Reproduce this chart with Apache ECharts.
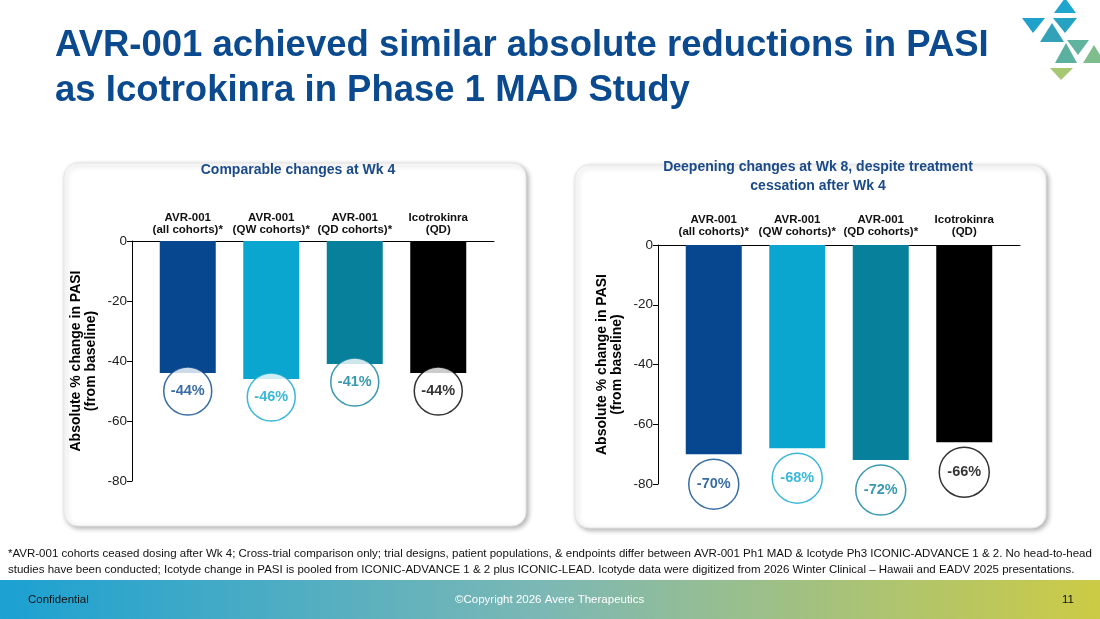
<!DOCTYPE html>
<html>
<head>
<meta charset="utf-8">
<script src="https://cdn.jsdelivr.net/npm/echarts@6/dist/echarts.min.js"></script>
<style>
  html, body { margin: 0; padding: 0; background: #fff; }
  #main { width: 1100px; height: 619px; }
</style>
</head>
<body>
<div id="main"></div>
<script>
// 类别
var categories = ['AVR-001\n(all cohorts)*', 'AVR-001\n(QW cohorts)*', 'AVR-001\n(QD cohorts)*', 'Icotrokinra\n(QD)'];
// Wk 4 变化
var wk4Values = [-44, -46, -41, -44];
// Wk 8 变化
var wk8Values = [-70, -68, -72, -66];
var barColors = ['#06478f', '#0aa6cf', '#07809c', '#000000'];
var yMin = -80, yMax = 0, yStep = 20;

var blue = '#0b4a8e';
var font = 'Liberation Sans, Arial, sans-serif';

function barData(vals) {
    return vals.map(function (v, i) {
        return { value: v, itemStyle: { color: barColors[i] } };
    });
}
function bubbleData(vals) {
    return vals.map(function (v, i) {
        return {
            value: v,
            itemStyle: { color: '#fff', borderColor: barColors[i], borderWidth: 1.5 },
            label: { color: barColors[i] }
        };
    });
}

var axisY = {
    type: 'value', min: yMin, max: yMax, interval: yStep,
    axisLine: { show: true, lineStyle: { color: '#000', width: 1 } },
    axisTick: { show: true, length: 5, lineStyle: { color: '#000' } },
    axisLabel: { fontSize: 13.5, color: '#222', margin: 5, fontFamily: font },
    splitLine: { show: false },
    name: 'Absolute % change in PASI\n(from baseline)',
    nameLocation: 'middle',
    nameGap: 33,
    nameTextStyle: { fontSize: 14, fontWeight: 'bold', color: '#000', lineHeight: 15, fontFamily: font }
};
var hideY = { type: 'value', min: yMin, max: yMax, show: false };
var lineX = {
    type: 'value', min: 0, max: 1,
    axisLine: { show: true, onZero: true, lineStyle: { color: '#000', width: 1 } },
    axisTick: { show: false }, axisLabel: { show: false }, splitLine: { show: false }
};
function catX(margin) {
    return {
        type: 'category', position: 'top', data: categories,
        axisLine: { show: false }, axisTick: { show: false },
        axisLabel: { margin: margin, fontSize: 11.5, fontWeight: 'bold', color: '#111', lineHeight: 12, fontFamily: font, interval: 0 }
    };
}

var oChart = echarts.init(document.getElementById('main'));

var chartopt = {
    backgroundColor: '#fff',
    animation: false,
    title: [{
        text: 'AVR-001 achieved similar absolute reductions in PASI\nas Icotrokinra in Phase 1 MAD Study',
        left: 50, top: 18,
        textStyle: { fontSize: 36.5, fontWeight: 'bold', color: blue, lineHeight: 45, fontFamily: font }
    }, {
        text: 'Comparable changes at Wk 4',
        left: 293, top: 158, textAlign: 'center',
        textStyle: { fontSize: 14, fontWeight: 'bold', color: '#1a4a8a', fontFamily: font }
    }, {
        text: 'Deepening changes at Wk 8, despite treatment\ncessation after Wk 4',
        left: 813, top: 153, textAlign: 'center',
        textStyle: { fontSize: 14, fontWeight: 'bold', color: '#1a4a8a', lineHeight: 19, fontFamily: font }
    }],
    graphic: [
        // 面板
        { type: 'rect', z: -10, shape: { x: 64, y: 163, width: 462, height: 363, r: 14 },
          style: { fill: '#fff', stroke: '#e6e6e6', lineWidth: 1, shadowBlur: 5, shadowOffsetX: 2, shadowOffsetY: 2, shadowColor: 'rgba(0,0,0,0.3)' } },
        { type: 'rect', z: -10, shape: { x: 575, y: 165, width: 471, height: 363, r: 14 },
          style: { fill: '#fff', stroke: '#e6e6e6', lineWidth: 1, shadowBlur: 5, shadowOffsetX: 2, shadowOffsetY: 2, shadowColor: 'rgba(0,0,0,0.3)' } },
        // 脚注
        { type: 'text', left: 8, top: 546,
          style: { text: '*AVR-001 cohorts ceased dosing after Wk 4; Cross-trial comparison only; trial designs, patient populations, & endpoints differ between AVR-001 Ph1 MAD & Icotyde Ph3 ICONIC-ADVANCE 1 & 2. No head-to-head\nstudies have been conducted; Icotyde change in PASI is pooled from ICONIC-ADVANCE 1 & 2 plus ICONIC-LEAD. Icotyde data were digitized from 2026 Winter Clinical \u2013 Hawaii and EADV 2025 presentations.',
                   fill: '#111', font: '11.5px "Liberation Sans", Arial', lineHeight: 16 } },
        // 底栏
        { type: 'rect', z: -5, shape: { x: 0, y: 580, width: 1100, height: 39 },
          style: { fill: new echarts.graphic.LinearGradient(0, 0, 1, 0, [
              { offset: 0, color: '#1ba1d2' }, { offset: 0.5, color: '#7db8b4' }, { offset: 1, color: '#cccb45' }]) } },
        { type: 'text', left: 28, top: 594, style: { text: 'Confidential', fill: '#111', font: '11.5px "Liberation Sans", Arial' } },
        { type: 'text', left: 455, top: 594, style: { text: '\u00a9Copyright 2026 Avere Therapeutics', fill: '#fff', font: '11.5px "Liberation Sans", Arial' } },
        { type: 'text', left: 1062, top: 594, style: { text: '11', fill: '#111', font: '11.5px "Liberation Sans", Arial' } },
        // 标志
        { type: 'polygon', shape: { points: [[1065, -2], [1076, 13], [1054, 13]] }, style: { fill: '#1ea6cf' } },
        { type: 'polygon', shape: { points: [[1022, 18], [1045, 18], [1033, 33]] }, style: { fill: '#1ea2cc' } },
        { type: 'polygon', shape: { points: [[1053, 18], [1077, 18], [1065, 33]] }, style: { fill: '#26a2c2' } },
        { type: 'polygon', shape: { points: [[1052, 23], [1064, 42], [1040, 42]] }, style: { fill: '#33a2b8' } },
        { type: 'polygon', shape: { points: [[1067, 40], [1089, 40], [1078, 55]] }, style: { fill: '#5fb39f' } },
        { type: 'polygon', shape: { points: [[1066, 43], [1077, 63], [1055, 63]] }, style: { fill: '#5cb09f' } },
        { type: 'polygon', shape: { points: [[1094, 45], [1105, 63], [1083, 63]] }, style: { fill: '#7fbd8c' } },
        { type: 'polygon', shape: { points: [[1050, 68], [1073, 68], [1061, 80]] }, style: { fill: '#a6c873' } }
    ],
    grid: [
        { left: 132, top: 241, width: 362, height: 240 },
        { left: 146, top: 241, width: 334, height: 240 },
        { left: 658, top: 245, width: 362, height: 239 },
        { left: 672, top: 245, width: 334, height: 239 }
    ],
    xAxis: [
        Object.assign({ gridIndex: 0 }, lineX),
        Object.assign({ gridIndex: 1 }, catX(5)),
        Object.assign({ gridIndex: 2 }, lineX),
        Object.assign({ gridIndex: 3 }, catX(7))
    ],
    yAxis: [
        Object.assign({ gridIndex: 0 }, axisY),
        Object.assign({ gridIndex: 1 }, hideY),
        Object.assign({ gridIndex: 2 }, axisY),
        Object.assign({ gridIndex: 3 }, hideY)
    ],
    series: [{
        name: 'Wk 4', type: 'bar', xAxisIndex: 1, yAxisIndex: 1,
        barWidth: 56, data: barData(wk4Values)
    }, {
        name: 'Wk 4 label', type: 'scatter', xAxisIndex: 1, yAxisIndex: 1, z: 5,
        symbol: 'circle', symbolSize: 48, symbolOffset: [0, 18],
        label: { show: true, position: 'inside', fontSize: 14.5, fontWeight: 'bold', fontFamily: font,
                 formatter: function (p) { return p.value + '%'; } },
        data: bubbleData(wk4Values)
    }, {
        name: 'Wk 8', type: 'bar', xAxisIndex: 3, yAxisIndex: 3,
        barWidth: 56, data: barData(wk8Values)
    }, {
        name: 'Wk 8 label', type: 'scatter', xAxisIndex: 3, yAxisIndex: 3, z: 5,
        symbol: 'circle', symbolSize: 50, symbolOffset: [0, 30],
        label: { show: true, position: 'inside', fontSize: 14.5, fontWeight: 'bold', fontFamily: font,
                 formatter: function (p) { return p.value + '%'; } },
        data: bubbleData(wk8Values)
    }]
};

oChart.setOption(chartopt);
</script>
</body>
</html>
